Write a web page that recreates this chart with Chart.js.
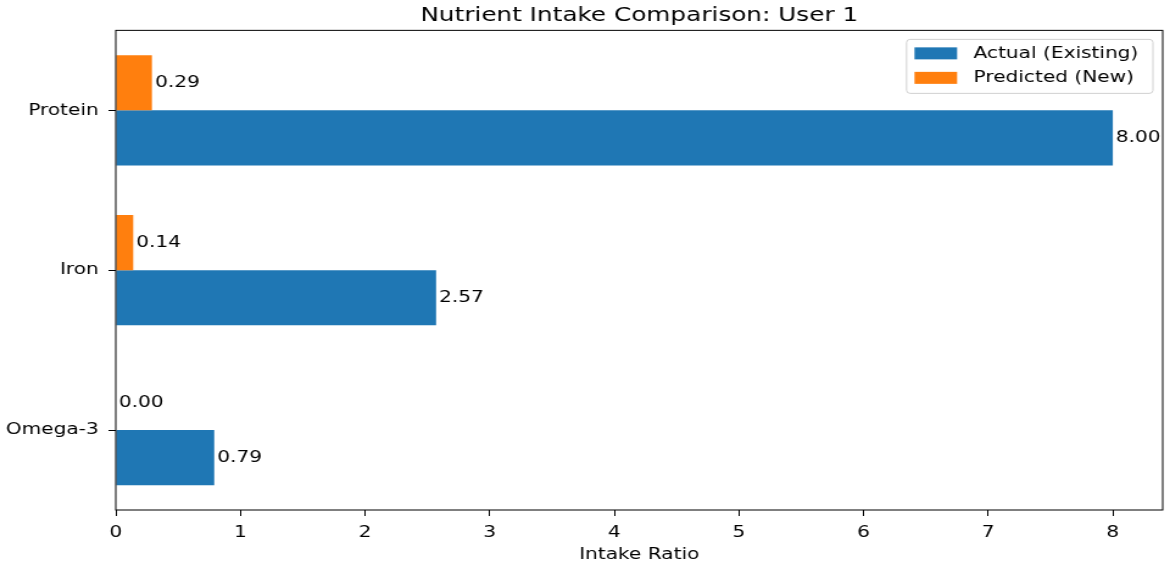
<!DOCTYPE html>
<html>
<head>
<meta charset="utf-8">
<script src="https://cdn.jsdelivr.net/npm/chart.js@4"></script>
<style>
    body { margin: 0; background: #fff; }
</style>
</head>
<body>
<canvas id="chart" width="960" height="562" style="display:block;width:1170px;height:562px;"></canvas>
<script>
const categories = ['Protein', 'Iron', 'Omega-3'];
const actualValues = [8.00, 2.57, 0.79];
const predictedValues = [0.29, 0.14, 0.00];
const xTicks = [0, 1, 2, 3, 4, 5, 6, 7, 8];
const xMax = 8.4;

const FONT = 'DejaVu Sans';
const BLUE = '#1f77b4';
const ORANGE = '#ff7f0e';

// frame around the plot + value labels at bar ends
const framePlugin = {
    id: 'frame',
    afterDatasetsDraw(chart) {
        const ctx = chart.ctx;
        const a = chart.chartArea;

        ctx.save();
        ctx.font = `16.5px "${FONT}"`;
        ctx.fillStyle = '#000';
        ctx.textAlign = 'left';
        ctx.textBaseline = 'middle';
        chart.data.datasets.forEach((ds, i) => {
            const meta = chart.getDatasetMeta(i);
            meta.data.forEach((bar, j) => {
                ctx.fillText(ds.data[j].toFixed(2), bar.x + 2.5, bar.y);
            });
        });

        ctx.strokeStyle = '#000';
        ctx.lineWidth = 1;
        ctx.strokeRect(a.left, a.top, a.right - a.left, a.bottom - a.top);
        ctx.restore();
    },
    afterDraw(chart) {
        // legend inside the plot, upper right, Actual first
        const ctx = chart.ctx;
        const a = chart.chartArea;
        const items = chart.data.datasets.slice().reverse();

        ctx.save();
        ctx.font = `16.5px "${FONT}"`;
        const textW = Math.max(...items.map(d => ctx.measureText(d.label).width));
        const padL = 6.5, swW = 35, swH = 12, gap = 13.5, padR = 12;
        const w = padL + swW + gap + textW + padR;
        const h = 54;
        const x0 = a.right - 8 - w;
        const y0 = a.top + 9;

        ctx.beginPath();
        ctx.roundRect(x0, y0, w, h, 3);
        ctx.fillStyle = 'rgba(255,255,255,0.8)';
        ctx.fill();
        ctx.strokeStyle = '#d0d0d0';
        ctx.lineWidth = 1;
        ctx.stroke();

        items.forEach((d, k) => {
            const cy = y0 + 14 + k * 24.5;
            ctx.fillStyle = d.backgroundColor;
            ctx.fillRect(x0 + padL, cy - swH / 2, swW, swH);
            ctx.fillStyle = '#000';
            ctx.textAlign = 'left';
            ctx.textBaseline = 'middle';
            ctx.fillText(d.label, x0 + padL + swW + gap, cy);
        });
        ctx.restore();
    }
};

new Chart(document.getElementById('chart'), {
    type: 'bar',
    data: {
        labels: categories,
        datasets: [
            {
                label: 'Predicted (New)',
                data: predictedValues,
                backgroundColor: ORANGE,
                borderWidth: 0
            },
            {
                label: 'Actual (Existing)',
                data: actualValues,
                backgroundColor: BLUE,
                borderWidth: 0
            }
        ]
    },
    options: {
        indexAxis: 'y',
        responsive: false,
        devicePixelRatio: 1,
        animation: false,
        categoryPercentage: 0.69,
        barPercentage: 1,
        layout: { padding: { left: 0, right: 6, top: 0, bottom: 0 } },
        plugins: {
            legend: { display: false },
            tooltip: { enabled: false },
            title: {
                display: true,
                text: 'Nutrient Intake Comparison: User 1',
                fullSize: false,
                color: '#000',
                font: { family: FONT, size: 20.3, weight: 'normal' },
                padding: { top: 4, bottom: 2 }
            }
        },
        scales: {
            x: {
                type: 'linear',
                min: 0,
                max: xMax,
                afterBuildTicks: scale => { scale.ticks = xTicks.map(v => ({ value: v })); },
                afterFit: scale => { scale.height = 52; },
                border: { display: false },
                grid: { drawOnChartArea: false, drawTicks: true, tickLength: 6, tickColor: '#000' },
                ticks: {
                    color: '#000',
                    padding: 7,
                    font: { family: FONT, size: 16.5 },
                    callback: v => String(v)
                },
                title: {
                    display: true,
                    text: 'Intake Ratio',
                    color: '#000',
                    font: { family: FONT, size: 16.5 },
                    padding: { top: 0, bottom: -3 }
                }
            },
            y: {
                afterFit: scale => { scale.width = 95; },
                border: { display: false },
                grid: { offset: false, drawOnChartArea: false, drawTicks: true, tickLength: 6, tickColor: '#000' },
                ticks: {
                    color: '#000',
                    padding: 8,
                    font: { family: FONT, size: 16.5 }
                }
            }
        }
    },
    plugins: [framePlugin]
});
</script>
</body>
</html>
